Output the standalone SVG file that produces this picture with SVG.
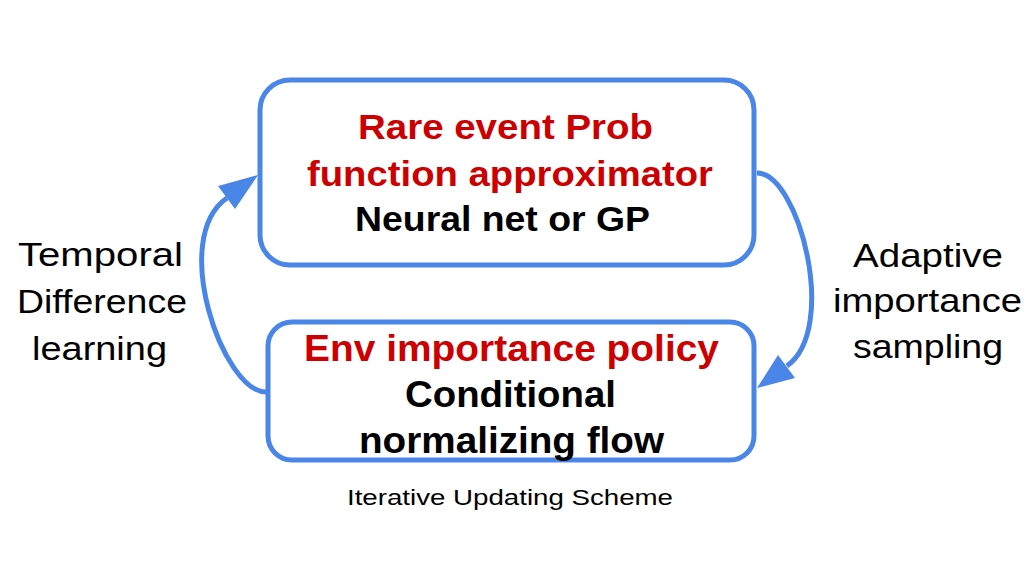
<svg xmlns="http://www.w3.org/2000/svg" width="1034" height="566" viewBox="0 0 1034 566">
<style>
.box{fill:#ffffff;stroke:#4a86e8;stroke-width:5}
.conn{fill:none;stroke:#4a86e8;stroke-width:5}
.head{fill:#4a86e8;stroke:none}
.b{font-family:"Liberation Sans",Arial,sans-serif;font-weight:bold;font-size:35px}
.b2{font-family:"Liberation Sans",Arial,sans-serif;font-weight:bold;font-size:36px}
.red{fill:#cc0000}
.blk{fill:#000000}
.lab{font-family:"Liberation Sans",Arial,sans-serif;font-size:34px;fill:#000000}
.cap{font-family:"Liberation Sans",Arial,sans-serif;font-size:22px;fill:#000000}
</style>
<rect width="1034" height="566" fill="#ffffff"/>
<g id="connectors">
<path class="conn" d="M757,173 C799,173 839,329 787,366"/>
<polygon class="head" points="757,388 778,355 795,378"/>
<path class="conn" d="M266,392 C223,392 169,238 227,198"/>
<polygon class="head" points="258,175 218,186 235,209"/>
</g>
<g id="node-approximator">
<rect class="box" x="260" y="80" width="494" height="185" rx="30"/>
<text class="b red" x="358" y="139" textLength="295" lengthAdjust="spacingAndGlyphs">Rare event Prob</text>
<text class="b red" x="307" y="186" textLength="406" lengthAdjust="spacingAndGlyphs">function approximator</text>
<text class="b blk" x="355" y="231" textLength="295" lengthAdjust="spacingAndGlyphs">Neural net or GP</text>
</g>
<g id="node-policy">
<rect class="box" x="268" y="322" width="486" height="138" rx="24"/>
<text class="b2 red" x="304" y="361" textLength="415" lengthAdjust="spacingAndGlyphs">Env importance policy</text>
<text class="b2 blk" x="405" y="407" textLength="211" lengthAdjust="spacingAndGlyphs">Conditional</text>
<text class="b2 blk" x="359" y="453" textLength="305" lengthAdjust="spacingAndGlyphs">normalizing flow</text>
</g>
<g id="label-td">
<text class="lab" x="18" y="266" textLength="165" lengthAdjust="spacingAndGlyphs">Temporal</text>
<text class="lab" x="17" y="313" textLength="170" lengthAdjust="spacingAndGlyphs">Difference</text>
<text class="lab" x="32" y="360" textLength="135" lengthAdjust="spacingAndGlyphs">learning</text>
</g>
<g id="label-ais">
<text class="lab" x="853" y="267" textLength="150" lengthAdjust="spacingAndGlyphs">Adaptive</text>
<text class="lab" x="833" y="312" textLength="189" lengthAdjust="spacingAndGlyphs">importance</text>
<text class="lab" x="853" y="358" textLength="150" lengthAdjust="spacingAndGlyphs">sampling</text>
</g>
<g id="caption">
<text class="cap" x="347" y="505" textLength="326" lengthAdjust="spacingAndGlyphs">Iterative Updating Scheme</text>
</g>
</svg>
